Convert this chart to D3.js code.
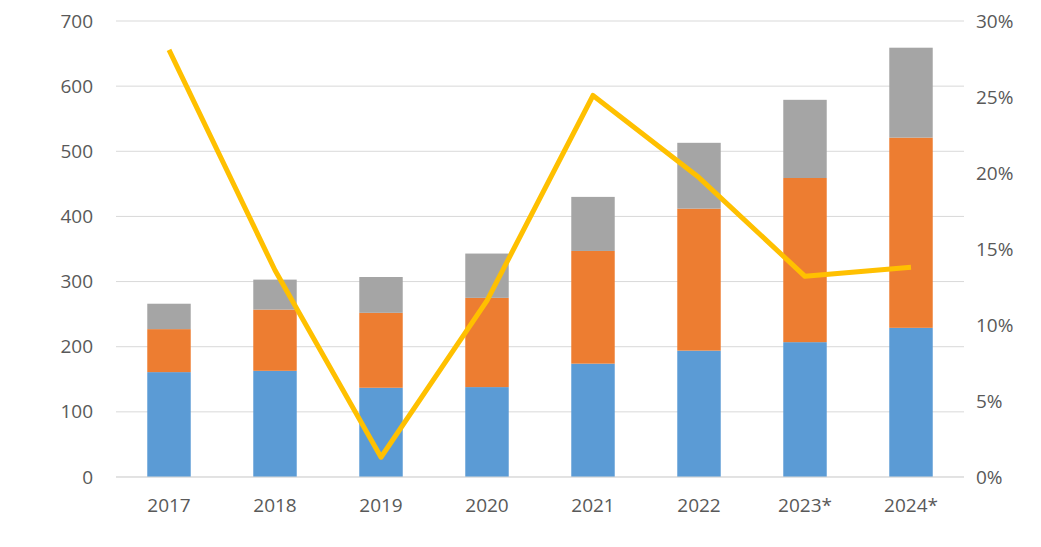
<!DOCTYPE html>
<html><head><meta charset="utf-8">
<script src="https://cdn.jsdelivr.net/npm/d3@7"></script>
<style>body{margin:0;background:#fff}text{font-family:"Open Sans",Calibri,sans-serif;fill:#595959}</style>
</head><body><svg id="chart" width="1041" height="547"></svg>
<script>
// data
const years = ["2017","2018","2019","2020","2021","2022","2023*","2024*"];
const blue = [161,163,137,138,174,194,207,229];
const orange = [66,94,115,137,173,218,252,292];
const gray = [39,46,55,68,83,101,120,138];
const growth = [0.281,0.136,0.013,0.116,0.251,0.197,0.132,0.138];
const leftTicks = [0,100,200,300,400,500,600,700];
const rightTicks = [0,0.05,0.10,0.15,0.20,0.25,0.30];

const margin = {top: 21, left: 116, right: 77, bottom: 70};
const width = 1041, height = 547;
const svg = d3.select("#chart");

const x = d3.scaleBand().domain(years).range([margin.left, width - margin.right])
  .paddingInner(0.59).paddingOuter(0.295);
const y = d3.scaleLinear().domain([0,700]).range([height - margin.bottom, margin.top]);
const y2 = d3.scaleLinear().domain([0,0.30]).range([height - margin.bottom, margin.top]);

// gridlines
svg.append("g").selectAll("line").data(leftTicks).join("line")
  .attr("x1", margin.left).attr("x2", width - margin.right)
  .attr("y1", d => y(d)).attr("y2", d => y(d))
  .attr("stroke", "#d9d9d9").attr("stroke-width", 1);

const stacked = d3.stack().keys(["b","o","g"])(years.map((yr,i) => ({yr, b: blue[i], o: orange[i], g: gray[i]})));
const colors = ["#5b9bd5","#ed7d31","#a5a5a5"];
svg.append("g").selectAll("g").data(stacked).join("g")
  .attr("fill", (d,i) => colors[i])
  .selectAll("rect").data(d => d).join("rect")
  .attr("x", d => x(d.data.yr)).attr("width", x.bandwidth())
  .attr("y", d => y(d[1])).attr("height", d => y(d[0]) - y(d[1]));

// growth line
svg.append("path").datum(growth)
  .attr("fill","none").attr("stroke","#ffc000").attr("stroke-width",5).attr("stroke-linejoin","round")
  .attr("d", d3.line().x((d,i) => x(years[i]) + x.bandwidth()/2).y(d => y2(d)));

const axL = svg.append("g").attr("transform", `translate(${margin.left},0)`)
  .call(d3.axisLeft(y).tickValues(leftTicks).tickSize(0).tickPadding(23));
const axR = svg.append("g").attr("transform", `translate(${width - margin.right},0)`)
  .call(d3.axisRight(y2).tickValues(rightTicks).tickFormat(d3.format(".0%")).tickSize(0).tickPadding(12));
const axB = svg.append("g").attr("transform", `translate(0,${height - margin.bottom})`)
  .call(d3.axisBottom(x).tickSize(0).tickPadding(22));
[axL, axR, axB].forEach(a => {
  a.select(".domain").remove();
  a.selectAll("text").style("font-size","19px");
});
svg.append("line").attr("x1", margin.left).attr("x2", width - margin.right)
  .attr("y1", y(0)).attr("y2", y(0)).attr("stroke", "#d9d9d9");
</script></body></html>
